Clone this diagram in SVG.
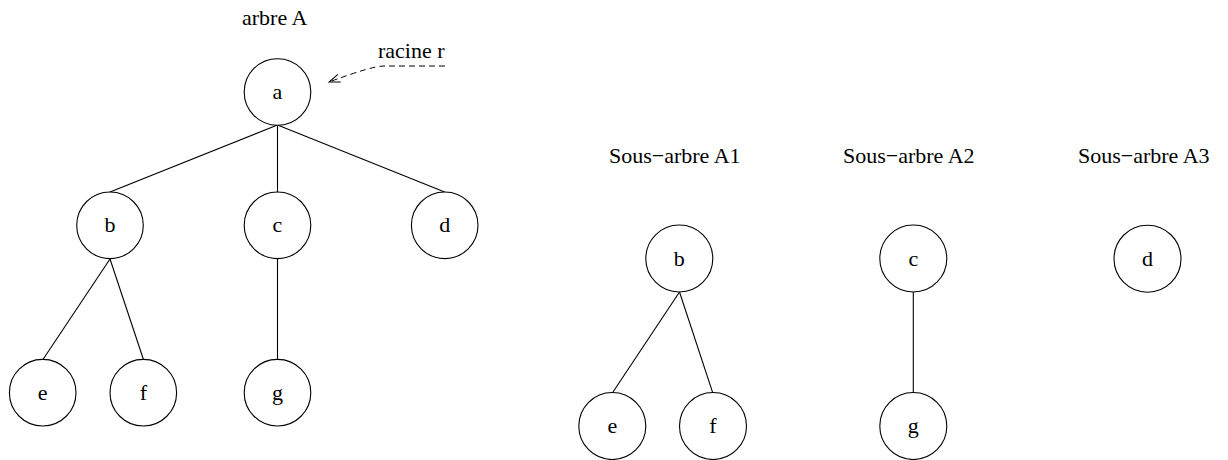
<svg xmlns="http://www.w3.org/2000/svg" width="1228" height="460" viewBox="0 0 1228 460">
<style>
  .node circle { fill: #fff; stroke: #000; stroke-width: 1.1; }
  .node text, .label { font-family: 'Liberation Serif', 'DejaVu Serif', 'Times New Roman', Times, serif; font-size: 22px; fill: #000; }
  .node text { text-anchor: middle; }
  .edge { stroke: #000; stroke-width: 1.1; fill: none; }
  .dashed { stroke: #000; stroke-width: 1; fill: none; stroke-dasharray: 6 4; }
</style>
<defs>
  <marker id="openArrow" markerUnits="userSpaceOnUse" markerWidth="16" markerHeight="12" viewBox="-12 -6 14 12" refX="0" refY="0" orient="auto">
    <path d="M -11 -4 L 0 0 L -11 4" fill="none" stroke="#000" stroke-width="1"/>
  </marker>
</defs>
<rect width="1228" height="460" fill="#fff"/>

<g id="labels" font-family="Liberation Serif, serif">
  <text class="label" x="242" y="25">arbre A</text>
  <text class="label" x="378" y="58">racine r</text>
  <text class="label" x="609" y="163">Sous−arbre A1</text>
  <text class="label" x="843" y="163">Sous−arbre A2</text>
  <text class="label" x="1078" y="163">Sous−arbre A3</text>
</g>

<g id="connectors">
  <line class="edge" x1="277.5" y1="125" x2="110" y2="192"/>
  <line class="edge" x1="277.5" y1="125" x2="277.5" y2="192"/>
  <line class="edge" x1="277.5" y1="125" x2="444.7" y2="192"/>
  <line class="edge" x1="110" y1="259" x2="43.3" y2="359"/>
  <line class="edge" x1="110" y1="259" x2="143.3" y2="359"/>
  <line class="edge" x1="277.5" y1="259" x2="277.5" y2="359"/>
  <line class="edge" x1="679.5" y1="292" x2="612.5" y2="392.7"/>
  <line class="edge" x1="679.5" y1="292" x2="712.7" y2="392.7"/>
  <line class="edge" x1="913.3" y1="292" x2="913.3" y2="392.7"/>
  <path class="dashed" d="M 445 66 L 384 66 Q 372 66 329 82" marker-end="url(#openArrow)"/>
</g>

<g id="node-a" class="node"><circle cx="277.5" cy="92" r="33.3"/><text x="277.5" y="99">a</text></g>
<g id="node-b" class="node"><circle cx="110" cy="225.3" r="33.3"/><text x="110" y="232">b</text></g>
<g id="node-c" class="node"><circle cx="277.5" cy="225.3" r="33.3"/><text x="277.5" y="232">c</text></g>
<g id="node-d" class="node"><circle cx="444.7" cy="225.3" r="33.3"/><text x="444.7" y="232">d</text></g>
<g id="node-e" class="node"><circle cx="42.7" cy="392.7" r="33.3"/><text x="42.7" y="399.5">e</text></g>
<g id="node-f" class="node"><circle cx="143.3" cy="392.7" r="33.3"/><text x="143.3" y="399.5">f</text></g>
<g id="node-g" class="node"><circle cx="277.5" cy="392.7" r="33.3"/><text x="277.5" y="399.5">g</text></g>

<g id="node-b1" class="node"><circle cx="679.3" cy="258.5" r="33.5"/><text x="679.3" y="265.5">b</text></g>
<g id="node-e1" class="node"><circle cx="612.3" cy="426" r="33.5"/><text x="612.3" y="433">e</text></g>
<g id="node-f1" class="node"><circle cx="713" cy="426" r="33.5"/><text x="713" y="433">f</text></g>
<g id="node-c2" class="node"><circle cx="913.3" cy="258.5" r="33.5"/><text x="913.3" y="265.5">c</text></g>
<g id="node-g2" class="node"><circle cx="913.3" cy="426" r="33.5"/><text x="913.3" y="433">g</text></g>
<g id="node-d3" class="node"><circle cx="1147.5" cy="258.7" r="33.5"/><text x="1147.5" y="265.5">d</text></g>
</svg>
